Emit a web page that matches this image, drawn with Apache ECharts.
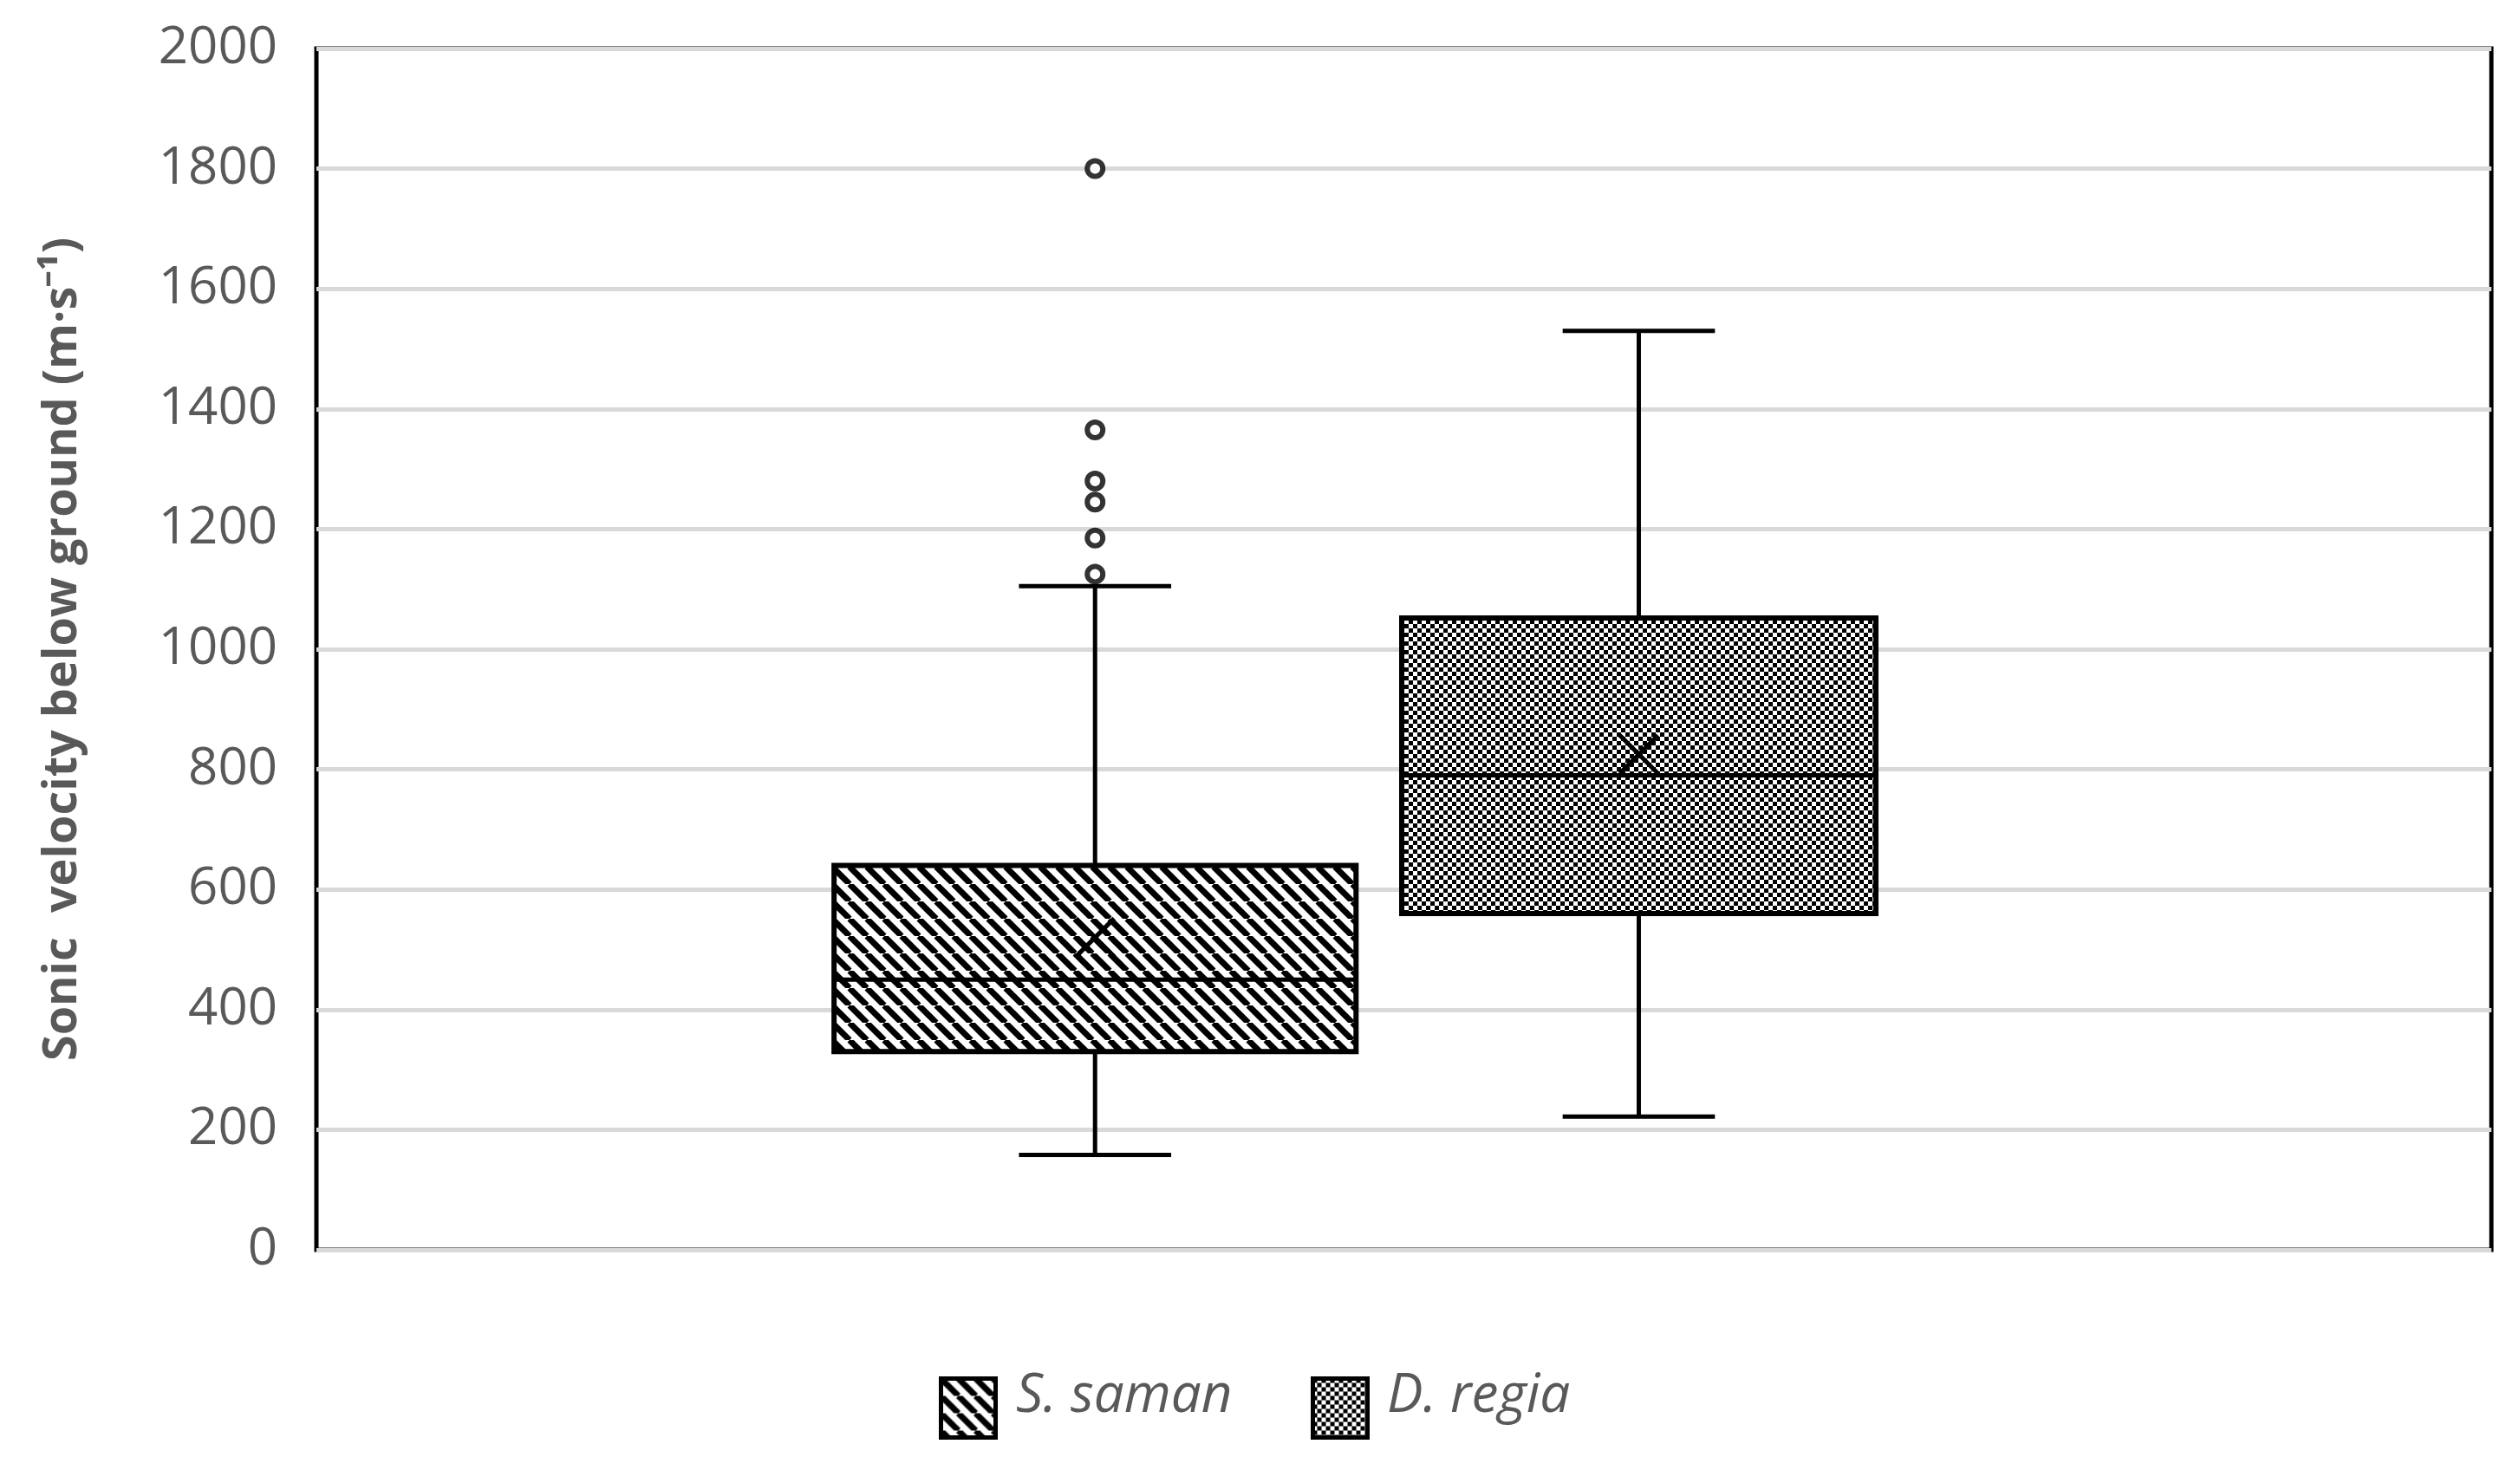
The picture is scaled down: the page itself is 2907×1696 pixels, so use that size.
<!DOCTYPE html>
<html><head><meta charset="utf-8">
<script src="https://cdn.jsdelivr.net/npm/echarts@6/dist/echarts.min.js"></script>
<style>html,body{margin:0;padding:0;background:#fff}#c{width:2907px;height:1696px}</style>
</head><body><div id="c"></div>
<script>
const categories = ['S. saman', 'D. regia'];
const whiskerLow = [158, 222];
const q1 = [330, 560];
const median = [450, 790];
const q3 = [640, 1052];
const whiskerHigh = [1105, 1530];
const means = [520, 825];
const outliersSaman = [1125, 1185, 1245, 1280, 1365, 1800];
const yTicks = [0, 200, 400, 600, 800, 1000, 1200, 1400, 1600, 1800, 2000];

function makePattern(kind) {
  const c = document.createElement('canvas');
  const ctx = c.getContext('2d');
  if (kind === 'diag') {
    const s = 20; c.width = s; c.height = s;
    ctx.fillStyle = '#fff'; ctx.fillRect(0, 0, s, s);
    ctx.strokeStyle = '#000'; ctx.lineWidth = 7;
    for (let k = -1; k <= 1; k++) {
      ctx.beginPath(); ctx.moveTo(k * s, 0); ctx.lineTo(k * s + s, s); ctx.stroke();
    }
  } else {
    const s = 10; c.width = s; c.height = s;
    ctx.fillStyle = '#fff'; ctx.fillRect(0, 0, s, s);
    ctx.fillStyle = '#000';
    ctx.fillRect(0, 0, 5, 5); ctx.fillRect(5, 5, 5, 5);
  }
  return { image: c, repeat: 'repeat' };
}
const patterns = [makePattern('diag'), makePattern('check')];

const chart = echarts.init(document.getElementById('c'));
const centers = [0.358, 0.608];
const halfW = [0.12, 0.109], capHalf = 0.035;
const boxData = categories.map((n, i) => [i, whiskerLow[i], q1[i], median[i], q3[i], whiskerHigh[i], means[i]]);

chart.setOption({
  animation: false,
  grid: { left: 365, right: 33, top: 56, bottom: 254, show: true, borderColor: '#000', borderWidth: 5 },
  xAxis: { type: 'value', min: 0, max: 1, show: false },
  yAxis: {
    type: 'value', min: 0, max: 2000, interval: 200,
    name: 'Sonic  velocity below ground (m·s⁻¹)', nameLocation: 'middle', nameGap: 265,
    nameTextStyle: { fontFamily: 'Open Sans', fontWeight: 'bold', fontSize: 54, color: '#595959' },
    axisLine: { show: false }, axisTick: { show: false },
    axisLabel: { fontFamily: 'Open Sans', fontSize: 60, color: '#595959', margin: 45,
      formatter: v => yTicks.includes(v) ? String(v) : '' },
    splitLine: { lineStyle: { color: '#d9d9d9', width: 5 } }
  },
  series: [{
    type: 'custom',
    data: boxData,
    renderItem: (params, api) => {
      const i = api.value(0), cx = centers[i];
      const p = k => api.coord([cx, api.value(k)]);
      const L = api.coord([cx - halfW[i], 0])[0], R = api.coord([cx + halfW[i], 0])[0];
      const cL = api.coord([cx - capHalf, 0])[0], cR = api.coord([cx + capHalf, 0])[0];
      const X = p(1)[0];
      const yLo = p(1)[1], yQ1 = p(2)[1], yMed = p(3)[1], yQ3 = p(4)[1], yHi = p(5)[1], yMean = p(6)[1];
      const ls = { stroke: '#000', lineWidth: 5, fill: null };
      const m = 22;
      return { type: 'group', children: [
        { type: 'line', shape: { x1: X, y1: yHi, x2: X, y2: yQ3 }, style: ls },
        { type: 'line', shape: { x1: X, y1: yQ1, x2: X, y2: yLo }, style: ls },
        { type: 'line', shape: { x1: cL, y1: yHi, x2: cR, y2: yHi }, style: ls },
        { type: 'line', shape: { x1: cL, y1: yLo, x2: cR, y2: yLo }, style: ls },
        { type: 'rect', shape: { x: L, y: yQ3, width: R - L, height: yQ1 - yQ3 },
          style: { fill: patterns[i], stroke: '#000', lineWidth: 6 } },
        { type: 'line', shape: { x1: L, y1: yMed, x2: R, y2: yMed }, style: ls },
        { type: 'polyline', shape: { points: [[X - m, yMean - m], [X + m, yMean + m]] }, style: ls },
        { type: 'polyline', shape: { points: [[X - m, yMean + m], [X + m, yMean - m]] }, style: ls }
      ]};
    }
  }, {
    type: 'scatter',
    data: outliersSaman.map(v => [centers[0], v]),
    symbol: 'circle', symbolSize: 18,
    itemStyle: { color: '#fff', borderColor: '#000', borderWidth: 6 }
  }],
  graphic: [
    { type: 'rect', left: 1083, top: 1588, shape: { width: 63, height: 68 },
      style: { fill: patterns[0], stroke: '#000', lineWidth: 5 } },
    { type: 'text', left: 1172, top: 1580, style: { text: 'S. saman', fontFamily: 'Open Sans', fontStyle: 'italic', fontSize: 62, fill: '#595959' } },
    { type: 'rect', left: 1512, top: 1588, shape: { width: 63, height: 68 },
      style: { fill: patterns[1], stroke: '#000', lineWidth: 5 } },
    { type: 'text', left: 1600, top: 1580, style: { text: 'D. regia', fontFamily: 'Open Sans', fontStyle: 'italic', fontSize: 62, fill: '#595959' } }
  ]
});
</script></body></html>
